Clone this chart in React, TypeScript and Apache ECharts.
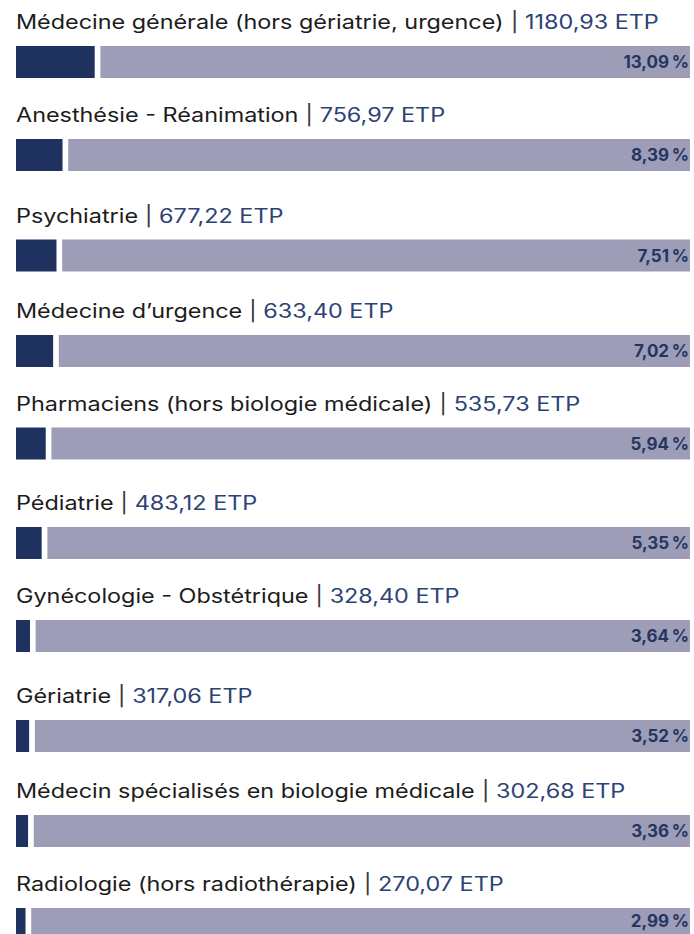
import React, { useEffect, useRef } from "react";
import * as echarts from "echarts";

const categories = [
  "Médecine générale (hors gériatrie, urgence)",
  "Anesthésie - Réanimation",
  "Psychiatrie",
  "Médecine d’urgence",
  "Pharmaciens (hors biologie médicale)",
  "Pédiatrie",
  "Gynécologie - Obstétrique",
  "Gériatrie",
  "Médecin spécialisés en biologie médicale",
  "Radiologie (hors radiothérapie)",
];
const etp = [1180.93, 756.97, 677.22, 633.4, 535.73, 483.12, 328.4, 317.06, 302.68, 270.07];
const shares = [13.09, 8.39, 7.51, 7.02, 5.94, 5.35, 3.64, 3.52, 3.36, 2.99];
const total = 100;

// layout only
const rowTops = [46, 139, 239.5, 335, 427.5, 527, 620, 720, 815, 908];
const BAR_H = 32;
const GAP = 0.83;
const AXIS_MIN = 1.6;

const NAVY = "#1f315f";
const LAV = "#9d9db8";
const TEXT = "#1c1c1c";
const BLUE = "#2d4375";
const FONT = "Inter";

const fr = (v: number) => v.toFixed(2).replace(".", ",");

export default function App() {
  const ref = useRef<HTMLDivElement>(null);
  useEffect(() => {
    if (!ref.current) return;
    const chart = echarts.init(ref.current, null, { renderer: "svg" });
    const grids: any[] = [];
    const xAxes: any[] = [];
    const yAxes: any[] = [];
    const series: any[] = [];
    const graphics: any[] = [];
    categories.forEach((name, i) => {
      grids.push({ left: 16, right: 4, top: rowTops[i], height: BAR_H });
      xAxes.push({ type: "value", gridIndex: i, min: AXIS_MIN, max: total, show: false });
      yAxes.push({ type: "category", gridIndex: i, data: [name], show: false });
      series.push({
        type: "bar",
        name,
        xAxisIndex: i,
        yAxisIndex: i,
        stack: "s" + i,
        barWidth: BAR_H,
        clip: true,
        data: [shares[i]],
        itemStyle: { color: NAVY },
      });
      series.push({
        type: "bar",
        xAxisIndex: i,
        yAxisIndex: i,
        stack: "s" + i,
        barWidth: BAR_H,
        data: [GAP],
        itemStyle: { color: "rgba(0,0,0,0)" },
        silent: true,
      });
      series.push({
        type: "bar",
        xAxisIndex: i,
        yAxisIndex: i,
        stack: "s" + i,
        barWidth: BAR_H,
        data: [total - shares[i] - GAP],
        itemStyle: { color: LAV },
        label: {
          show: true,
          position: "insideRight",
          distance: 1,
          formatter: () => `${fr(shares[i])}\u202f%`,
          fontFamily: FONT,
          fontWeight: "bold",
          fontSize: 17,
          color: "#24355f",
        },
      });
      graphics.push({
        type: "text",
        x: 16,
        y: rowTops[i] - 24,
        scaleX: 1.2,
        silent: true,
        style: {
          text: `{n|${name}}{p| | }{v|${fr(etp[i])} ETP}`,
          verticalAlign: "middle",
          align: "left",
          rich: {
            n: { fontFamily: FONT, fontSize: 19.5, fill: TEXT },
            p: { fontFamily: FONT, fontSize: 19.5, fill: "#3a3a3a" },
            v: { fontFamily: FONT, fontSize: 19.5, fill: BLUE },
          },
        },
      });
    });
    chart.setOption({
      animation: false,
      grid: grids,
      xAxis: xAxes,
      yAxis: yAxes,
      series,
      graphic: graphics,
    });
    return () => chart.dispose();
  }, []);
  return (
    <div
      ref={ref}
      style={{ position: "absolute", left: 0, top: 0, width: 694, height: 934, background: "#fff" }}
    />
  );
}
